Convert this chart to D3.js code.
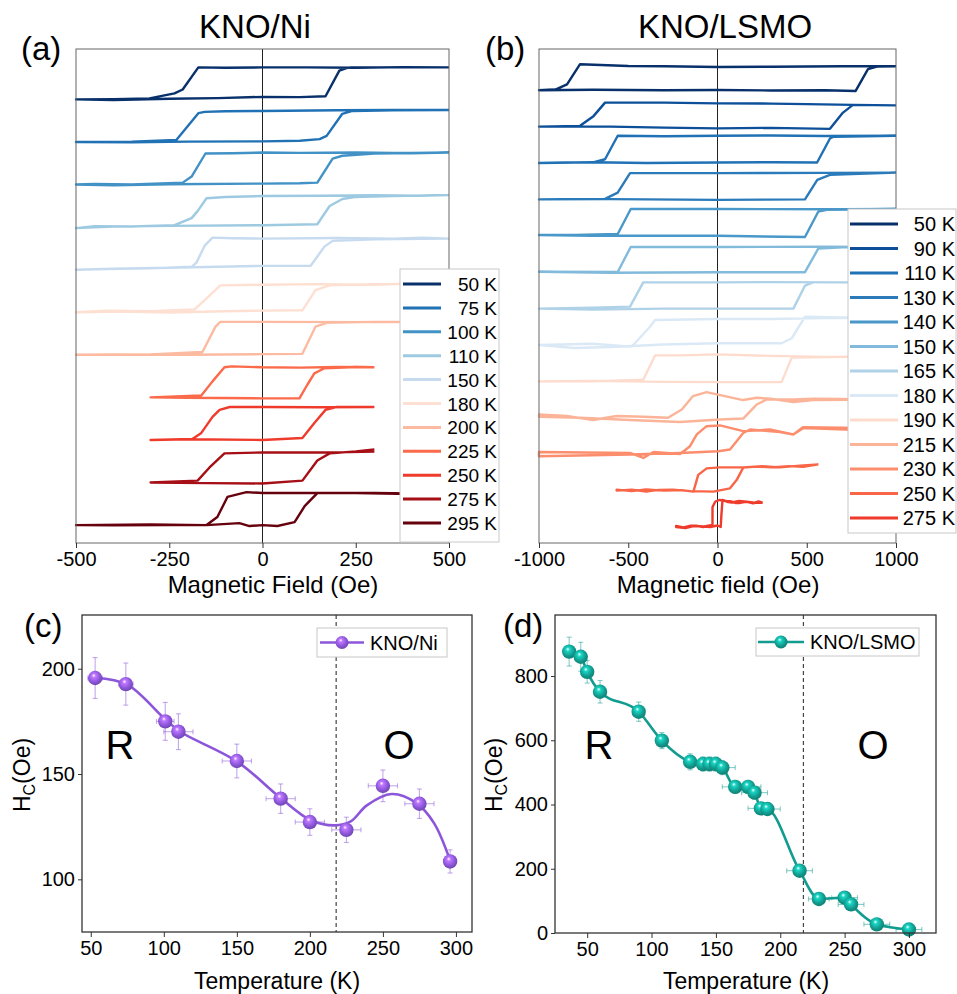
<!DOCTYPE html>
<html>
<head>
<meta charset="utf-8">
<script src="https://cdn.jsdelivr.net/npm/d3@7"></script>
<style>
body{margin:0;background:#fff;}
text{font-family:"Liberation Sans",Arial,sans-serif;}
</style>
</head>
<body>
<script>
const W = 957, H = 994;

// ---- (a) KNO/Ni hysteresis loops : [field (Oe), normalised M] ----
const loopLabelsA = ["50 K","75 K","100 K","110 K","150 K","180 K","200 K","225 K","250 K","275 K","295 K"];
const loopsA = [
  [[500,1],[380,1.01],[250,0.99],[120,1.0],[0,1.0],[-100,0.99],[-172,1],[-214,0.31],[-236,0.19],[-303,0.03],[-400,0.01],[-500,0],[-400,-0.02],[-250,0.02],[-120,0.04],[0,0.08],[100,0.07],[169,0.1],[206,0.9],[225,0.98],[239,1],[350,1.0],[500,1]],
  [[500,1],[350,1.0],[200,0.99],[0,0.97],[-100,0.96],[-155,0.94],[-172,0.9],[-231,0.06],[-350,0.01],[-500,0],[-350,-0.01],[-200,0.01],[0,0.02],[100,0.04],[153,0.09],[172,0.19],[214,0.88],[241,0.97],[350,0.99],[500,1]],
  [[500,1],[400,0.98],[250,1.0],[100,0.99],[0,1],[-80,0.98],[-153,0.97],[-190,0.25],[-214,0.06],[-350,0.0],[-450,0.02],[-500,0],[-400,-0.02],[-250,0.01],[0,0.03],[100,0.04],[147,0.06],[188,0.81],[214,0.9],[300,0.97],[500,1]],
  [[500,1],[420,0.98],[300,1.0],[150,0.98],[0,0.97],[-100,0.94],[-150,0.9],[-174,0.5],[-190,0.28],[-236,0.06],[-350,0.02],[-450,0.03],[-500,-0.03],[-400,0.02],[-250,0.04],[0,0.06],[147,0.09],[180,0.66],[214,0.88],[247,0.94],[350,0.97],[500,1]],
  [[500,0.97],[430,1.0],[350,0.97],[200,0.99],[0,0.97],[-80,0.98],[-134,1],[-155,0.75],[-177,0.22],[-190,0.09],[-300,0.04],[-420,0.02],[-500,0],[-400,0.03],[-250,0.06],[0,0.12],[129,0.12],[166,0.72],[188,0.9],[300,0.95],[500,0.97]],
  [[500,0.88],[400,0.9],[300,0.86],[150,0.88],[0,0.86],[-113,0.84],[-155,0.38],[-182,0.09],[-300,0.03],[-420,0.05],[-500,0],[-380,0.02],[-250,-0.01],[-100,0.03],[0,0.05],[107,0.06],[142,0.69],[180,0.84],[300,0.88],[500,0.88]],
  [[500,1.03],[300,1.02],[0,1.03],[-113,1.03],[-126,0.88],[-161,0.09],[-300,0.01],[-500,0],[-400,0.01],[-200,0.0],[0,0.02],[107,0.03],[142,0.88],[172,1.0],[300,1.03],[500,1.03]],
  [[300,0.94],[200,0.95],[100,0.93],[0,0.94],[-83,0.97],[-102,0.94],[-134,0.5],[-164,0.06],[-250,0.02],[-300,0],[-200,-0.01],[0,-0.03],[99,-0.03],[121,0.41],[139,0.75],[166,0.91],[250,0.95],[300,0.94]],
  [[300,1.03],[150,1.02],[0,1.03],[-88,1.03],[-115,0.94],[-134,0.72],[-164,0.22],[-188,0.03],[-300,0],[-200,0.02],[0,0.0],[107,0.06],[139,0.53],[169,0.94],[198,1.03],[300,1.03]],
  [[300,0.97],[200,0.94],[0,0.94],[-102,0.91],[-142,0.47],[-174,0.06],[-300,0],[-150,-0.02],[0,-0.03],[107,0.06],[147,0.69],[180,0.91],[250,0.97],[300,1.03]],
  [[500,0.97],[400,0.97],[250,1.0],[0,1.0],[-43,1.03],[-94,0.88],[-121,0.25],[-150,0.0],[-300,0.02],[-500,0],[-400,-0.01],[-250,0.0],[-150,0.0],[-62,0.06],[-35,-0.03],[0,0],[40,-0.03],[86,0.09],[113,0.59],[147,1.0],[300,1.0],[500,0.97]]
];

// ---- (b) KNO/LSMO hysteresis loops ----
const loopLabelsB = ["50 K","90 K","110 K","130 K","140 K","150 K","165 K","180 K","190 K","215 K","230 K","250 K","275 K"];
const loopsB = [
  [[1000,0.96],[700,0.96],[300,0.94],[0,0.93],[-300,0.96],[-500,0.97],[-770,1.04],[-843,0.23],[-905,0.03],[-1000,0],[-700,0.02],[-300,0.0],[0,0.01],[300,-0.01],[600,0.0],[774,-0.03],[843,0.84],[899,0.95],[1000,0.96]],
  [[1000,0.85],[760,0.87],[500,0.9],[300,0.92],[0,0.93],[-300,0.96],[-630,0.96],[-697,0.4],[-770,0.03],[-1000,0],[-600,0.0],[-300,-0.04],[0,-0.07],[300,-0.05],[630,-0.09],[703,0.56],[759,0.87],[1000,0.85]],
  [[1000,1.09],[600,1.08],[300,1.1],[0,1.09],[-300,1.07],[-559,1.09],[-630,0.15],[-697,0.02],[-850,0.02],[-1000,0],[-700,0.03],[-400,0.0],[0,0.02],[300,0.03],[558,0.02],[630,0.98],[650,1.05],[1000,1.09]],
  [[1000,1.07],[600,1.06],[0,1.05],[-490,1.05],[-559,0.27],[-630,0.02],[-1000,0],[-600,0.01],[0,-0.02],[490,0],[559,0.78],[630,0.98],[1000,1.07]],
  [[1000,1.07],[700,1.06],[0,1.07],[-486,1.07],[-559,0.07],[-800,0.03],[-1000,0.03],[-700,0.0],[0,0],[490,-0.05],[565,0.97],[612,1.04],[1000,1.07]],
  [[1000,1.0],[600,1.02],[0,1.01],[-486,1.01],[-559,0.01],[-1000,0.02],[-600,-0.02],[0,0],[490,0],[565,0.95],[700,1.0],[1000,1.0]],
  [[1000,1.05],[700,1.05],[300,1.06],[0,1.05],[-416,1.05],[-490,0.08],[-700,0.04],[-1000,0],[-700,-0.04],[-300,0.0],[0,0],[425,0],[490,0.92],[537,1.05],[1000,1.05]],
  [[1000,1.09],[600,1.08],[300,1.04],[0,1.04],[-350,1.0],[-378,0.73],[-481,-0.07],[-700,0.05],[-1000,0.0],[-800,-0.12],[-600,-0.08],[-300,0.02],[0,0.07],[359,0.07],[416,0.27],[490,1.13],[700,1.1],[1000,1.09]],
  [[1000,1.0],[600,0.98],[300,1.02],[0,1.08],[-200,1.04],[-350,1.04],[-416,0.07],[-700,0.0],[-1000,0],[-700,0.02],[-300,-0.02],[0,-0.03],[359,-0.03],[416,0.95],[600,0.97],[1000,1.0]],
  [[1000,0.73],[537,0.71],[425,0.63],[297,0.76],[220,0.8],[143,0.71],[3,0.93],[-61,1.03],[-137,0.87],[-200,0.33],[-277,0.0],[-415,0.04],[-565,0.07],[-697,-0.09],[-845,0.07],[-1000,0.13],[-1000,0.04],[-770,0.0],[-490,-0.09],[-210,-0.17],[14,-0.07],[144,-0.03],[219,0.53],[275,0.73],[425,0.73],[537,0.76],[1000,0.73]],
  [[1000,1.03],[479,1.08],[425,0.79],[293,0.99],[144,0.92],[14,1.15],[-61,1.12],[-116,0.79],[-154,0.32],[-210,0.01],[-359,0.09],[-415,-0.15],[-490,0.05],[-1000,0.09],[-1000,-0.08],[-490,-0.01],[-210,0.05],[4,0.12],[70,0.19],[144,0.85],[182,0.99],[350,0.89],[425,0.79],[481,1.05],[1000,0.92]],
  [[565,1.05],[462,1.0],[350,0.93],[250,0.98],[144,0.93],[14,0.93],[-61,0.89],[-108,0.63],[-135,-0.04],[-200,0.02],[-300,0.0],[-400,0.05],[-480,-0.02],[-565,0.04],[-565,0.0],[-480,0.04],[-400,-0.04],[-330,0.03],[-250,0.04],[-150,-0.02],[-23,-0.04],[70,0.09],[108,0.43],[144,0.92],[220,0.96],[300,0.93],[400,0.98],[480,0.95],[565,1.05]],
  [[253,0.97],[230,1.02],[200,0.95],[170,1.0],[150,1.0],[120,0.96],[100,0.96],[80,1.02],[50,1.04],[10,1.08],[-12,1.02],[-28,0.8],[-28,0.08],[-60,0.04],[-80,0.0],[-120,0.05],[-150,0.05],[-190,-0.02],[-232,0.04],[-232,0.0],[-180,-0.04],[-140,0.03],[-100,0.03],[-40,0.0],[0,0.06],[18,0.0],[22,0.5],[28,1.08],[60,1.0],[80,0.98],[120,1.04],[150,1.02],[200,0.98],[253,0.97]]
];

// ---- (c) KNO/Ni coercivity ----
const tempNi = [53,74,101,110,150,180,200,225,250,275,296];
const hcNi = [195.6,192.7,175,170.1,156.2,138.3,127.2,123.5,144.4,135.9,108.5];
const hcNiErr = [9.7,10,9,8.5,8,7,6.3,6,7.5,7,5.5];
const tempNiErr = [5,5,6,10,10,10,10,10,10,10,2];
const fitTempNi = [53,75,100,111,150,180,200,217,228,239,256,273,285,296];
const fitHcNi = [195.7,192.4,176.6,170.2,156,138.6,128.3,125.6,127.5,135.1,140.5,136.2,126.7,109];

// ---- (d) KNO/LSMO coercivity ----
const tempLsmo = [36,45,50,60,90,108,130,140,145,150,155,165,175,180,185,190,215,230,250,255,275,300];
const hcLsmo = [876,860,813,751,689,599,533,526,526,526,515,455,455,437,388,386,194,106,110,89,27,11];
const hcLsmoErr = [45,45,35,35,30,25,25,22,22,22,22,20,20,20,18,18,15,12,12,10,10,8];
const tempLsmoErr = [2,2,2,2,2,2,2,2,2,2,10,10,10,10,10,10,10,8,10,10,10,10];

const fieldTicksA = [-500,-250,0,250,500];
const fieldTicksB = [-1000,-500,0,500,1000];
const tempTicks = [50,100,150,200,250,300];
const hcTicksNi = [100,150,200];
const hcTicksLsmo = [0,200,400,600,800];
const transitionT = 218;

// styles
const colorsA = ["#08306b","#2171b5","#4292c6","#9ecae1","#c6dbef","#fee0d2","#fcbba1","#fb6a4a","#ef3b2c","#a50f15","#67000d"];
const colorsB = ["#08306b","#0d4f99","#2171b5","#2b7bba","#4a98c9","#82badb","#b0d2e8","#dbe9f6","#fddcce","#fcb499","#fc8d6d","#f96547","#ef3b2c"];
const purple = "#8b56d9", teal = "#129c8f";

let svg = d3.select("body").append("svg")
    .attr("width", W)
    .attr("height", H);
const defs = svg.append("defs");

function label(txt, x, y, size, anchor) {
  return svg.append("text").attr("x", x).attr("y", y)
    .attr("font-size", size).attr("text-anchor", anchor || "middle")
    .attr("fill", "#000").text(txt);
}

function styleAxis(g, size) {
  g.attr("color", "#000");
  g.select(".domain").remove();
  g.selectAll("text").attr("font-size", size).attr("font-family", "Liberation Sans, Arial, sans-serif");
  g.selectAll("line").attr("stroke", "#333");
}

function drawLoops(o) {
  const x = d3.scaleLinear().domain(o.xDomain).range([o.left, o.right]);
  const y = d3.scaleLinear().domain(o.yDomain).range([o.bottom, o.top]);
  const g = svg.append("g");
  g.append("line")
    .attr("x1", x(0)).attr("x2", x(0)).attr("y1", o.top).attr("y2", o.bottom)
    .attr("stroke", "#222").attr("stroke-width", 1);
  const n = o.loops.length;
  o.loops.forEach((pts, i) => {
    const off = (n - 1 - i) * o.step;
    const line = d3.line().x(d => x(d[0])).y(d => y(off + d[1]));
    g.append("path").attr("d", line(pts))
      .attr("fill", "none").attr("stroke", o.colors[i])
      .attr("stroke-width", 2.4).attr("stroke-linejoin", "round");
  });
  g.append("rect").attr("x", o.left).attr("y", o.top)
    .attr("width", o.right - o.left).attr("height", o.bottom - o.top)
    .attr("fill", "none").attr("stroke", "#666").attr("stroke-width", 1);
  const ax = g.append("g").attr("transform", "translate(0," + o.bottom + ")")
    .call(d3.axisBottom(x).tickValues(o.ticks).tickSize(5).tickSizeOuter(0).tickPadding(4).tickFormat(d => String(d)));
  styleAxis(ax, 20);

  // legend
  const lg = o.legend;
  g.append("rect").attr("x", lg.x).attr("y", lg.y).attr("width", lg.w).attr("height", lg.h)
    .attr("fill", "#fff").attr("stroke", "#c8c8c8").attr("stroke-width", 1);
  o.labels.forEach((t, i) => {
    const ry = lg.row0 + i * lg.rowStep;
    g.append("line").attr("x1", lg.l0).attr("x2", lg.l1).attr("y1", ry).attr("y2", ry)
      .attr("stroke", o.colors[i]).attr("stroke-width", 3);
    g.append("text").attr("x", lg.tx).attr("y", ry + 7).attr("text-anchor", "end")
      .attr("font-size", lg.fs).attr("fill", "#000").text(t);
  });
}

drawLoops({
  left: 76, right: 449, top: 49, bottom: 543,
  xDomain: [-500, 500], yDomain: [-0.56, 14.875], step: 1.33,
  ticks: fieldTicksA, loops: loopsA, labels: loopLabelsA, colors: colorsA,
  legend: {x: 400, y: 269, w: 99, h: 273, row0: 284, rowStep: 23.9, l0: 403, l1: 441, tx: 497, fs: 19}
});
drawLoops({
  left: 539, right: 896, top: 49, bottom: 543,
  xDomain: [-1000, 1000], yDomain: [-0.64, 19.12], step: 1.456,
  ticks: fieldTicksB, loops: loopsB, labels: loopLabelsB, colors: colorsB,
  legend: {x: 848, y: 209, w: 108, h: 324, row0: 224, rowStep: 24.5, l0: 850, l1: 898, tx: 955, fs: 20}
});

label("KNO/Ni", 255, 38, 33);
label("KNO/LSMO", 725, 38, 33);
label("(a)", 21, 60, 33, "start");
label("(b)", 485, 60, 33, "start");
label("Magnetic Field (Oe)", 273, 593, 24);
label("Magnetic field (Oe)", 718, 593, 24);

function sphere(id, base) {
  const c = d3.color(base);
  const gr = defs.append("radialGradient").attr("id", id)
    .attr("cx", "45%").attr("cy", "42%").attr("r", "62%").attr("fx", "40%").attr("fy", "32%");
  gr.append("stop").attr("offset", "0%").attr("stop-color", "#ffffff");
  gr.append("stop").attr("offset", "22%").attr("stop-color", c.brighter(0.9).formatHex());
  gr.append("stop").attr("offset", "65%").attr("stop-color", base);
  gr.append("stop").attr("offset", "100%").attr("stop-color", c.darker(0.7).formatHex());
}
sphere("ballNi", purple);
sphere("ballLsmo", teal);

function drawHc(o) {
  const x = d3.scaleLinear().domain(o.xDomain).range([o.left, o.right]);
  const y = d3.scaleLinear().domain(o.yDomain).range([o.bottom, o.top]);
  const g = svg.append("g");

  g.append("line").attr("x1", x(transitionT)).attr("x2", x(transitionT))
    .attr("y1", o.top).attr("y2", o.bottom)
    .attr("stroke", "#444").attr("stroke-width", 1.2).attr("stroke-dasharray", "4,3");

  // error bars
  const eb = g.append("g").attr("stroke", o.color).attr("stroke-opacity", 0.5).attr("stroke-width", 1.1);
  o.t.forEach((t, i) => {
    const cx = x(t), cy = y(o.h[i]);
    const y1 = y(o.h[i] + o.hErr[i]), y2 = y(o.h[i] - o.hErr[i]);
    const x1 = x(t - o.tErr[i]), x2 = x(t + o.tErr[i]);
    eb.append("line").attr("x1", cx).attr("x2", cx).attr("y1", y1).attr("y2", y2);
    eb.append("line").attr("x1", cx - 2.5).attr("x2", cx + 2.5).attr("y1", y1).attr("y2", y1);
    eb.append("line").attr("x1", cx - 2.5).attr("x2", cx + 2.5).attr("y1", y2).attr("y2", y2);
    eb.append("line").attr("x1", x1).attr("x2", x2).attr("y1", cy).attr("y2", cy);
    eb.append("line").attr("x1", x1).attr("x2", x1).attr("y1", cy - 2.5).attr("y2", cy + 2.5);
    eb.append("line").attr("x1", x2).attr("x2", x2).attr("y1", cy - 2.5).attr("y2", cy + 2.5);
  });

  const curve = d3.line().x(d => x(d[0])).y(d => y(d[1])).curve(o.curve);
  g.append("path").attr("d", curve(d3.zip(o.fitT, o.fitH)))
    .attr("fill", "none").attr("stroke", o.color).attr("stroke-width", 2.6);

  g.selectAll("circle.pt").data(d3.zip(o.t, o.h)).enter().append("circle")
    .attr("cx", d => x(d[0])).attr("cy", d => y(d[1])).attr("r", 7.2)
    .attr("fill", "url(#" + o.ball + ")");

  g.append("rect").attr("x", o.left).attr("y", o.top)
    .attr("width", o.right - o.left).attr("height", o.bottom - o.top)
    .attr("fill", "none").attr("stroke", "#333").attr("stroke-width", 1.3);

  const ax = g.append("g").attr("transform", "translate(0," + o.bottom + ")")
    .call(d3.axisBottom(x).tickValues(tempTicks).tickSize(5).tickSizeOuter(0).tickPadding(4));
  styleAxis(ax, 20);
  const ay = g.append("g").attr("transform", "translate(" + o.left + ",0)")
    .call(d3.axisLeft(y).tickValues(o.yTicks).tickSize(4).tickSizeOuter(0).tickPadding(3));
  styleAxis(ay, 20);

  // legend
  const lg = o.legend;
  g.append("rect").attr("x", lg.x).attr("y", lg.y).attr("width", lg.w).attr("height", lg.h)
    .attr("fill", "#fff").attr("stroke", "#c8c8c8").attr("stroke-width", 1);
  g.append("line").attr("x1", lg.l0).attr("x2", lg.l1).attr("y1", lg.y + lg.h / 2).attr("y2", lg.y + lg.h / 2)
    .attr("stroke", o.color).attr("stroke-width", 2.6);
  g.append("circle").attr("cx", (lg.l0 + lg.l1) / 2).attr("cy", lg.y + lg.h / 2).attr("r", 6.5)
    .attr("fill", "url(#" + o.ball + ")");
  g.append("text").attr("x", lg.l1 + 6).attr("y", lg.y + lg.h / 2 + 7)
    .attr("font-size", 20).attr("fill", "#000").text(o.name);

  // axis titles
  label("Temperature (K)", o.xTitleX, 989, 23);
  const yt = svg.append("text").attr("transform", "translate(" + o.yTitleX + ",775) rotate(-90)")
    .attr("text-anchor", "middle").attr("font-size", 23).attr("fill", "#000");
  yt.append("tspan").text("H");
  yt.append("tspan").attr("font-size", 16).attr("dy", 5).text("C");
  yt.append("tspan").attr("dy", -5).text("(Oe)");

  label("R", o.rX, 759, 40);
  label("O", o.oX, 759, 40);
}

drawHc({
  left: 82, right: 472, top: 615, bottom: 932,
  xDomain: [44, 311], yDomain: [75, 225.5], yTicks: hcTicksNi,
  t: tempNi, h: hcNi, hErr: hcNiErr, tErr: tempNiErr,
  fitT: fitTempNi, fitH: fitHcNi, curve: d3.curveCatmullRom.alpha(0.5),
  color: purple, ball: "ballNi", name: "KNO/Ni",
  legend: {x: 317, y: 628, w: 130, h: 29, l0: 320, l1: 364},
  xTitleX: 277, yTitleX: 30, rX: 120, oX: 399
});
drawHc({
  left: 555, right: 936, top: 615, bottom: 933,
  xDomain: [25, 321], yDomain: [0, 990], yTicks: hcTicksLsmo,
  t: tempLsmo, h: hcLsmo, hErr: hcLsmoErr, tErr: tempLsmoErr,
  fitT: tempLsmo, fitH: hcLsmo, curve: d3.curveMonotoneX,
  color: teal, ball: "ballLsmo", name: "KNO/LSMO",
  legend: {x: 756, y: 628, w: 163, h: 28, l0: 758, l1: 804},
  xTitleX: 746, yTitleX: 502, rX: 599, oX: 873
});

label("(c)", 24, 637, 33, "start");
label("(d)", 503, 637, 33, "start");
</script>
</body>
</html>
